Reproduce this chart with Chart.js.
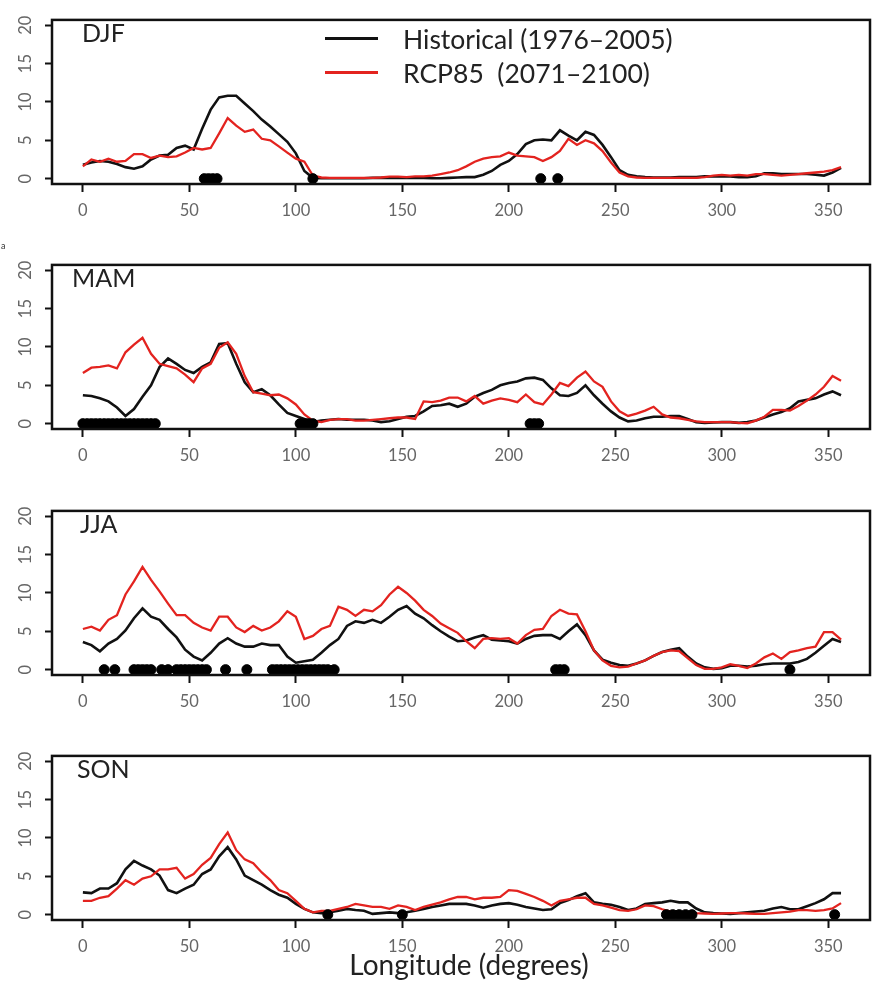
<!DOCTYPE html>
<html>
<head>
<meta charset="utf-8">
<script src="https://cdn.jsdelivr.net/npm/chart.js@4.4.1/dist/chart.umd.min.js"></script>
<style>
  body { margin: 0; background: #fff; width: 876px; height: 981px; position: relative; overflow: hidden; font-family: "Lato", sans-serif; }
  .panel { position: absolute; left: 0; width: 876px; height: 234px; }
  .season { position: absolute; font-size: 25px; line-height: 25px; color: #222; }
  .key { position: absolute; left: 403px; font-size: 26.5px; line-height: 26px; color: #222; white-space: pre; }
  .swatch { position: absolute; left: 325px; width: 53px; height: 3px; }
</style>
</head>
<body>
<div class="panel" style="top:0px"><canvas id="c0" width="876" height="234"></canvas></div>
<div class="panel" style="top:245px"><canvas id="c1" width="876" height="234"></canvas></div>
<div class="panel" style="top:491px"><canvas id="c2" width="876" height="234"></canvas></div>
<div class="panel" style="top:736px"><canvas id="c3" width="876" height="234"></canvas></div>

<div class="season" style="left:82px;top:20px">DJF</div>
<div class="season" style="left:72px;top:265px">MAM</div>
<div class="season" style="left:80px;top:511px">JJA</div>
<div class="season" style="left:77px;top:756px">SON</div>

<div class="swatch" style="top:37px;background:#111"></div>
<div class="key" style="top:26px">Historical (1976–2005)</div>
<div class="swatch" style="top:71px;background:#e3231f"></div>
<div class="key" style="top:60px">RCP85  (2071–2100)</div>

<div style="position:absolute;left:1px;top:240px;font-size:9px;color:#333">a</div>
<div style="position:absolute;left:0;width:938px;top:950px;text-align:center;font-size:28px;line-height:28px;color:#222">Longitude (degrees)</div>

<script>
// longitude grid (degrees)
const lon = [0,4,8,12,16,20,24,28,32,36,40,44,48,52,56,60,64,68,72,76,80,84,88,92,96,100,
  104,108,112,116,120,124,128,132,136,140,144,148,152,156,160,164,168,172,176,180,184,188,192,196,
  200,204,208,212,216,220,224,228,232,236,240,244,248,252,256,260,264,268,272,276,280,284,288,292,
  296,300,304,308,312,316,320,324,328,332,336,340,344,348,352,356];

const djfHist = [1.8,2.1,2.3,2.2,1.9,1.5,1.3,1.6,2.5,3.0,3.1,4.0,4.3,3.8,6.5,9.0,10.6,10.8,10.8,9.8,
  8.8,7.7,6.8,5.8,4.8,3.3,1.0,0.1,0.05,0.05,0.05,0.05,0.05,0.05,0.1,0.1,0.1,0.1,0.1,0.1,
  0.1,0.05,0.05,0.1,0.15,0.2,0.2,0.5,1.0,1.8,2.3,3.2,4.5,5.0,5.1,5.0,6.3,5.6,5.0,6.1,
  5.7,4.4,2.8,1.1,0.5,0.3,0.2,0.15,0.15,0.15,0.2,0.2,0.2,0.3,0.3,0.3,0.3,0.2,0.2,0.3,
  0.7,0.7,0.6,0.6,0.6,0.6,0.5,0.4,0.8,1.4];
const djfRcp = [1.6,2.5,2.2,2.6,2.2,2.3,3.2,3.2,2.7,3.0,2.8,2.9,3.4,4.0,3.8,4.0,5.9,7.9,6.9,6.1,
  6.4,5.2,5.0,4.2,3.4,2.6,2.2,0.4,0.15,0.1,0.1,0.1,0.1,0.1,0.1,0.15,0.25,0.25,0.2,0.3,
  0.3,0.4,0.6,0.8,1.1,1.6,2.2,2.6,2.8,2.9,3.4,3.0,2.9,2.8,2.3,2.8,3.6,5.2,4.4,5.0,
  4.6,3.6,2.1,0.8,0.3,0.15,0.1,0.1,0.1,0.1,0.1,0.1,0.1,0.2,0.4,0.5,0.4,0.5,0.4,0.6,
  0.6,0.5,0.4,0.5,0.6,0.7,0.8,0.9,1.1,1.5];
const mamHist = [3.7,3.6,3.3,2.9,2.1,1.0,1.9,3.5,5.0,7.4,8.5,7.8,7.0,6.6,7.4,8.0,10.4,10.5,7.8,5.4,
  4.1,4.5,3.7,2.5,1.4,1.0,0.6,0.2,0.4,0.5,0.6,0.5,0.5,0.5,0.4,0.2,0.3,0.6,0.9,1.0,
  1.6,2.3,2.4,2.6,2.2,2.6,3.5,4.0,4.4,5.0,5.3,5.5,5.9,6.0,5.7,4.6,3.7,3.6,4.0,5.0,
  3.7,2.6,1.6,0.8,0.3,0.4,0.7,0.9,0.9,1.0,1.0,0.6,0.2,0.1,0.15,0.2,0.2,0.1,0.2,0.4,
  0.8,1.2,1.5,2.0,2.9,3.1,3.3,3.8,4.2,3.7];
const mamRcp = [6.6,7.3,7.4,7.6,7.2,9.3,10.3,11.2,9.1,7.8,7.5,7.2,6.4,5.4,7.2,7.8,9.9,10.6,9.1,6.2,
  4.1,3.9,3.7,3.8,3.3,2.5,1.2,0.4,0.2,0.5,0.6,0.6,0.4,0.4,0.5,0.6,0.7,0.8,0.8,0.6,
  2.9,2.8,3.0,3.4,3.4,2.9,3.6,2.6,3.0,3.3,3.1,2.8,3.8,2.8,2.5,3.8,5.3,4.9,6.0,6.8,
  5.5,4.8,2.9,1.6,1.0,1.3,1.7,2.2,1.2,0.8,0.7,0.5,0.3,0.2,0.2,0.2,0.2,0.1,0.05,0.4,
  0.9,1.8,1.8,1.7,2.3,3.0,3.8,4.8,6.2,5.6];
const jjaHist = [3.6,3.2,2.4,3.4,4.0,5.1,6.7,8.0,6.9,6.5,5.3,4.2,2.6,1.7,1.2,2.2,3.4,4.1,3.4,3.0,
  3.0,3.4,3.2,3.2,1.7,0.9,1.1,1.3,2.2,3.2,4.0,5.7,6.3,6.1,6.5,6.1,6.9,7.8,8.3,7.3,
  6.7,5.8,5.0,4.3,3.7,3.8,4.2,4.5,3.9,3.8,3.7,3.4,4.0,4.4,4.5,4.5,4.0,5.0,5.9,4.5,
  2.5,1.3,0.9,0.6,0.5,0.8,1.2,1.8,2.3,2.6,2.8,1.7,0.8,0.3,0.1,0.2,0.5,0.5,0.4,0.5,
  0.7,0.8,0.8,0.8,1.0,1.4,2.2,3.1,4.0,3.6];
const jjaRcp = [5.3,5.6,5.1,6.5,7.1,9.8,11.5,13.4,11.7,10.2,8.6,7.1,7.1,6.1,5.5,5.1,6.9,6.9,5.5,4.9,
  5.7,5.1,5.5,6.3,7.6,6.9,4.0,4.4,5.3,5.7,8.2,7.8,7.0,7.8,7.6,8.4,9.8,10.8,10.0,9.0,
  7.8,7.0,6.0,5.4,4.8,3.7,2.8,4.0,4.1,4.0,4.1,3.4,4.5,5.2,5.3,7.0,7.8,7.3,7.2,5.0,
  2.5,1.2,0.5,0.3,0.4,0.8,1.2,1.8,2.3,2.5,2.4,1.5,0.6,0.1,0.1,0.3,0.7,0.5,0.2,0.8,
  1.6,2.1,1.4,2.3,2.5,2.8,3.0,4.9,4.9,3.9];
const sonHist = [2.9,2.8,3.4,3.4,4.1,5.9,7.0,6.4,5.9,5.1,3.2,2.8,3.4,3.9,5.3,5.9,7.6,8.8,7.2,5.1,
  4.5,3.9,3.2,2.6,2.2,1.4,0.75,0.3,0.2,0.3,0.5,0.75,0.6,0.5,0.1,0.2,0.3,0.2,0.3,0.5,
  0.75,1.0,1.2,1.4,1.4,1.4,1.2,0.9,1.2,1.4,1.5,1.3,1.0,0.8,0.6,0.7,1.5,1.9,2.4,2.8,
  1.6,1.4,1.3,1.0,0.6,0.8,1.4,1.5,1.6,1.8,1.6,1.6,0.8,0.3,0.2,0.15,0.1,0.2,0.3,0.4,
  0.5,0.8,1.0,0.7,0.7,1.1,1.5,2.0,2.8,2.8];
const sonRcp = [1.8,1.8,2.2,2.4,3.4,4.5,3.9,4.7,5.0,5.9,5.9,6.1,4.7,5.3,6.5,7.4,9.2,10.7,8.4,7.2,
  6.7,5.5,4.5,3.2,2.8,1.8,0.75,0.3,0.5,0.5,0.75,1.0,1.4,1.2,1.0,1.0,0.75,1.2,1.0,0.6,
  1.0,1.3,1.6,2.0,2.3,2.3,2.0,2.2,2.2,2.3,3.2,3.1,2.7,2.3,1.8,1.2,1.8,2.0,2.2,2.2,
  1.4,1.2,0.9,0.6,0.5,0.7,1.2,1.1,0.7,0.4,0.3,0.3,0.2,0.15,0.1,0.15,0.2,0.2,0.15,0.1,
  0.1,0.2,0.3,0.4,0.6,0.6,0.5,0.6,0.8,1.5];

// longitudes flagged as significant (black dots on the zero line)
const djfSig = [57,59,61,63,108,215,223];
const mamSig = [0,2,4,6,8,10,12,14,16,18,20,22,24,26,28,30,32,34,102,104,106,108,210,212,214];
const jjaSig = [10,15,24,26,28,30,32,37,40,44,46,48,50,52,54,56,58,67,77,
  89,91,93,95,97,99,101,103,105,107,109,111,113,115,118,222,224,226,332];
const sonSig = [115,150,274,277,280,283,286,353];

const xTicks = [0,50,100,150,200,250,300,350];
const yTicks = [0,5,10,15,20];

const panels = [
  { id: "c0", hist: djfHist, rcp: djfRcp, sig: djfSig },
  { id: "c1", hist: mamHist, rcp: mamRcp, sig: mamSig },
  { id: "c2", hist: jjaHist, rcp: jjaRcp, sig: jjaSig },
  { id: "c3", hist: sonHist, rcp: sonRcp, sig: sonSig },
];

const RED = "#e3231f";
const tickFont = { family: "Lato", size: 16.5 };

// R style closed box round the plot region
const boxPlugin = {
  id: "box",
  afterDraw(chart) {
    const a = chart.chartArea, ctx = chart.ctx;
    ctx.save();
    ctx.strokeStyle = "#111";
    ctx.lineWidth = 2.5;
    ctx.strokeRect(a.left, a.top, a.right - a.left, a.bottom - a.top);
    ctx.restore();
  },
};

const pts = (xs, ys) => xs.map((x, i) => ({ x, y: ys[i] }));

panels.forEach((p) => {
  new Chart(document.getElementById(p.id), {
    type: "line",
    data: {
      datasets: [
        {
          label: "Historical (1976–2005)",
          data: pts(lon, p.hist),
          borderColor: "#111",
          borderWidth: 2.6,
          pointRadius: 0,
          order: 2,
        },
        {
          label: "RCP85 (2071–2100)",
          data: pts(lon, p.rcp),
          borderColor: RED,
          borderWidth: 2.3,
          pointRadius: 0,
          order: 1,
        },
        {
          type: "scatter",
          label: "significant",
          data: p.sig.map((x) => ({ x, y: 0 })),
          backgroundColor: "#000",
          borderColor: "#000",
          pointRadius: 5,
          order: 0,
        },
      ],
    },
    options: {
      responsive: false,
      animation: false,
      events: [],
      layout: { padding: { top: 10, right: 2, left: 0, bottom: 0 } },
      plugins: { legend: { display: false }, tooltip: { enabled: false } },
      scales: {
        x: {
          type: "linear",
          min: -14.5,
          max: 369.6,
          afterBuildTicks: (s) => { s.ticks = xTicks.map((v) => ({ value: v })); },
          afterFit: (s) => { s.height = 50; },
          border: { display: false },
          grid: { drawOnChartArea: false, drawTicks: true, tickLength: 8, tickWidth: 2, tickColor: "#111" },
          ticks: { font: tickFont, color: "#666", padding: 9, maxRotation: 0, autoSkip: false },
        },
        y: {
          type: "linear",
          min: -0.7,
          max: 20.7,
          afterBuildTicks: (s) => { s.ticks = yTicks.map((v) => ({ value: v })); },
          afterFit: (s) => { s.width = 52; },
          border: { display: false },
          grid: { drawOnChartArea: false, drawTicks: true, tickLength: 7, tickWidth: 2, tickColor: "#111" },
          ticks: { font: tickFont, color: "#666", padding: 10, minRotation: 90, maxRotation: 90, crossAlign: "center", autoSkip: false },
        },
      },
    },
    plugins: [boxPlugin],
  });
});
</script>
</body>
</html>
